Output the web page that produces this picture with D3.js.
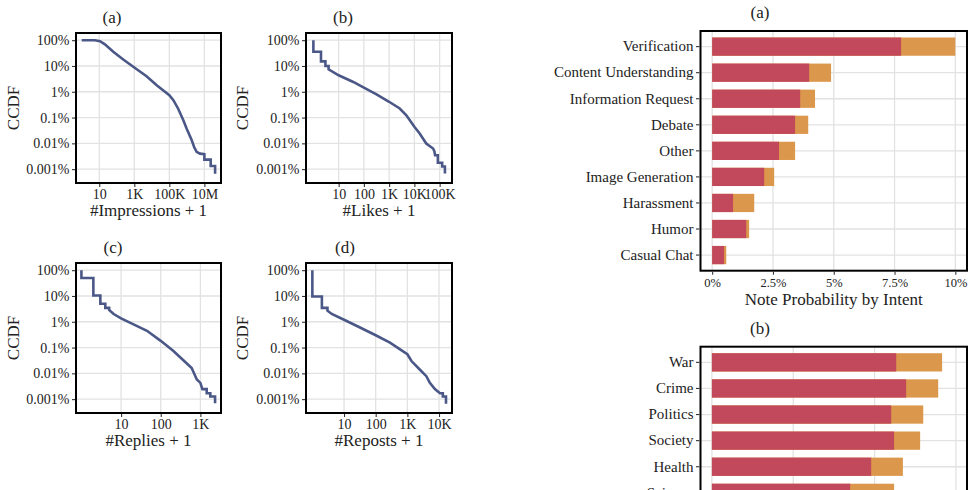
<!DOCTYPE html>
<html><head><meta charset="utf-8">
<script src="https://cdn.jsdelivr.net/npm/d3@7"></script>
<style>
body{margin:0;background:#fff}
svg{display:block;font-family:"Liberation Serif","Times New Roman",serif}
</style>
</head><body>
<svg id="c" width="974" height="490"></svg>
<script>
// ---------- DATA ----------
const ccdfTickValues = [1, 0.1, 0.01, 0.001, 0.0001, 0.00001];
const ccdfTickLabels = ["100%", "10%", "1%", "0.1%", "0.01%", "0.001%"];

// [count + 1, CCDF]
const impressions = [[1,1],[5.6,0.99],[11,0.91],[21,0.69],[63,0.355],[234,0.178],[1000,0.087],[5000,0.04],[19000,0.0178],[100000,0.0074],[170000,0.0047],[320000,0.0022],[630000,0.00079],[980000,0.00037],[1900000,0.000132],[2600000,0.0000724],[3600000,0.0000468],[5600000,0.0000398],[10000000,0.000038],[10000000,0.0000234],[23000000,0.0000234],[23000000,0.0000132],[41000000,0.0000132],[41000000,0.0000066]];
const likes = [[1,1],[1,0.355],[2,0.355],[2,0.151],[3,0.151],[3,0.1],[4,0.1],[4,0.074],[10,0.0437],[38,0.024],[100,0.0145],[316,0.0079],[1000,0.0041],[2630,0.00224],[4800,0.00123],[10000,0.000437],[16200,0.00024],[29500,0.000098],[55000,0.000063],[61700,0.00005],[66000,0.0000347],[85000,0.0000347],[85000,0.0000178],[126000,0.0000178],[126000,0.0000126],[162000,0.0000126],[162000,0.0000068]];
const replies = [[1,1],[1,0.5],[2,0.5],[2,0.105],[3,0.105],[3,0.05],[4,0.05],[4,0.0347],[5,0.0347],[5,0.0288],[6.5,0.02],[10,0.0135],[20,0.0081],[45,0.00447],[100,0.00182],[209,0.00074],[372,0.000324],[603,0.000162],[813,0.0000575],[1000,0.0000427],[1122,0.0000245],[1445,0.0000245],[1445,0.000017],[1778,0.000017],[1778,0.0000126],[2344,0.0000126],[2344,0.0000069]];
const reposts = [[1,1],[1,0.095],[2,0.095],[2,0.0347],[3,0.0347],[3,0.0269],[4.1,0.02],[10,0.012],[32,0.006],[100,0.003],[282,0.00155],[589,0.00085],[1000,0.00055],[1349,0.0003],[2455,0.000141],[3981,0.0000776],[5129,0.0000427],[7413,0.0000245],[10715,0.000017],[13183,0.000017],[13183,0.0000126],[16596,0.0000126],[16596,0.0000066]];

const impressionsTicks = [10, 1000, 100000, 10000000];
const impressionsTickLabels = ["10", "1K", "100K", "10M"];
const likesTicks = [10, 100, 1000, 10000, 100000];
const likesTickLabels = ["10", "100", "1K", "10K", "100K"];
const repliesTicks = [10, 100, 1000];
const repliesTickLabels = ["10", "100", "1K"];
const repostsTicks = [10, 100, 1000, 10000];
const repostsTickLabels = ["10", "100", "1K", "10K"];

const intentCategories = ["Verification","Content Understanding","Information Request","Debate","Other","Image Generation","Harassment","Humor","Casual Chat"];
const intentNoted = [7.77, 3.99, 3.62, 3.41, 2.75, 2.14, 0.86, 1.40, 0.49];
const intentTotal = [10.0, 4.89, 4.23, 3.95, 3.41, 2.55, 1.73, 1.52, 0.58];
const intentTicks = [0, 2.5, 5, 7.5, 10];
const intentTickLabels = ["0%", "2.5%", "5%", "7.5%", "10%"];

const topicCategories = ["War","Crime","Politics","Society","Health","Science"];
const topicNoted = [11.33, 11.94, 11.02, 11.2, 9.79, 8.5];
const topicTotal = [14.15, 13.91, 12.99, 12.8, 11.74, 11.2];
const topicTicks = [0, 5, 10, 15];

// ---------- STYLE ----------
const LINE = "#4B5887", RED = "#C2495B", ORANGE = "#DB984C", GRID = "#E2E2E2", TXT = "#222";
const svg = d3.select("#c");

function styleAxis(g, fs) {
  g.select(".domain").remove();
  g.selectAll(".tick line").attr("stroke", "#333").attr("stroke-width", 1.1);
  g.selectAll(".tick text").attr("fill", TXT).attr("font-size", fs).attr("font-family", "Liberation Serif, serif");
}

function ccdfPanel(o) {
  const g = svg.append("g");
  const x = d3.scaleLog().domain(o.xd).range([o.x0, o.x1]);
  const y = d3.scaleLog().domain([2.9e-6, 1.9]).range([o.y1, o.y0]);
  g.selectAll(".vg").data(o.ticks).join("line")
    .attr("x1", d => x(d)).attr("x2", d => x(d)).attr("y1", o.y0).attr("y2", o.y1)
    .attr("stroke", GRID).attr("stroke-width", 1.3);
  g.selectAll(".hg").data(ccdfTickValues).join("line")
    .attr("x1", o.x0).attr("x2", o.x1).attr("y1", d => y(d)).attr("y2", d => y(d))
    .attr("stroke", GRID).attr("stroke-width", 1.3);
  g.append("path").datum(o.data)
    .attr("d", d3.line().x(d => x(d[0])).y(d => y(d[1])))
    .attr("fill", "none").attr("stroke", LINE).attr("stroke-width", 2.6)
    .attr("stroke-linejoin", "miter");
  g.append("rect").attr("x", o.x0).attr("y", o.y0).attr("width", o.x1 - o.x0).attr("height", o.y1 - o.y0)
    .attr("fill", "none").attr("stroke", "#000").attr("stroke-width", 2);
  const ax = g.append("g").attr("transform", `translate(0,${o.y1 + 1})`)
    .call(d3.axisBottom(x).tickValues(o.ticks).tickFormat((d, i) => o.labels[i]).tickSize(3).tickPadding(2.5));
  styleAxis(ax, 14);
  const ay = g.append("g").attr("transform", `translate(${o.x0 - 1},0)`)
    .call(d3.axisLeft(y).tickValues(ccdfTickValues).tickFormat((d, i) => ccdfTickLabels[i]).tickSize(3).tickPadding(2.5));
  styleAxis(ay, 14);
  g.append("text").attr("x", o.tx).attr("y", o.y0 - 10).attr("text-anchor", "middle")
    .attr("font-size", 17).attr("fill", TXT).text(o.title);
  g.append("text").attr("x", (o.x0 + o.x1) / 2).attr("y", o.y1 + 33).attr("text-anchor", "middle")
    .attr("font-size", 17).attr("fill", TXT).text(o.xlab);
  g.append("text").attr("transform", `translate(${o.ylx},${(o.y0 + o.y1) / 2}) rotate(-90)`)
    .attr("text-anchor", "middle").attr("font-size", 17).attr("fill", TXT).text("CCDF");
}

ccdfPanel({data: impressions, x0: 76, x1: 221, y0: 33, y1: 183, xd: [0.47, 8.9e7], ticks: impressionsTicks, labels: impressionsTickLabels, title: "(a)", tx: 112, xlab: "#Impressions + 1", ylx: 19});
ccdfPanel({data: likes, x0: 306, x1: 452, y0: 33, y1: 183, xd: [0.51, 309000], ticks: likesTicks, labels: likesTickLabels, title: "(b)", tx: 343, xlab: "#Likes + 1", ylx: 248});
ccdfPanel({data: replies, x0: 76, x1: 221, y0: 263, y1: 413, xd: [0.73, 3310], ticks: repliesTicks, labels: repliesTickLabels, title: "(c)", tx: 113, xlab: "#Replies + 1", ylx: 19});
ccdfPanel({data: reposts, x0: 306, x1: 452, y0: 263, y1: 413, xd: [0.63, 25700], ticks: repostsTicks, labels: repostsTickLabels, title: "(d)", tx: 345, xlab: "#Reposts + 1", ylx: 248});

function barPanel(o) {
  const g = svg.append("g");
  const x = d3.scaleLinear().domain(o.xd).range([o.x0, o.x1]);
  const y = d3.scaleBand().domain(o.cats).range([o.y0, o.y1]).paddingInner(0.3).paddingOuter(0.25);
  const yc = d => y(d) + y.bandwidth() / 2;
  g.selectAll(".vg").data(o.ticks).join("line")
    .attr("x1", d => x(d)).attr("x2", d => x(d)).attr("y1", o.y0).attr("y2", o.y1)
    .attr("stroke", GRID).attr("stroke-width", 1.3);
  g.selectAll(".hg").data(o.cats).join("line")
    .attr("x1", o.x0).attr("x2", o.x1).attr("y1", yc).attr("y2", yc)
    .attr("stroke", GRID).attr("stroke-width", 1.3);
  g.selectAll(".tot").data(o.cats).join("rect")
    .attr("x", x(0)).attr("y", d => y(d)).attr("height", y.bandwidth())
    .attr("width", (d, i) => x(o.total[i]) - x(0)).attr("fill", ORANGE);
  g.selectAll(".noted").data(o.cats).join("rect")
    .attr("x", x(0)).attr("y", d => y(d)).attr("height", y.bandwidth())
    .attr("width", (d, i) => x(o.noted[i]) - x(0)).attr("fill", RED);
  g.append("rect").attr("x", o.x0).attr("y", o.y0).attr("width", o.x1 - o.x0).attr("height", o.y1 - o.y0)
    .attr("fill", "none").attr("stroke", "#000").attr("stroke-width", 2);
  const ay = g.append("g").attr("transform", `translate(${o.x0 - 1},0)`)
    .call(d3.axisLeft(y).tickSize(3.5).tickPadding(2.5));
  styleAxis(ay, 15);
  if (o.labels) {
    const ax = g.append("g").attr("transform", `translate(0,${o.y1 + 1})`)
      .call(d3.axisBottom(x).tickValues(o.ticks).tickFormat((d, i) => o.labels[i]).tickSize(3).tickPadding(3));
    styleAxis(ax, 12.5);
    g.append("text").attr("x", (o.x0 + o.x1) / 2).attr("y", o.y1 + 34).attr("text-anchor", "middle")
      .attr("font-size", 17).attr("fill", TXT).text(o.xlab);
  }
  g.append("text").attr("x", 760).attr("y", o.y0 - 13).attr("text-anchor", "middle")
    .attr("font-size", 17).attr("fill", TXT).text(o.title);
}

barPanel({cats: intentCategories, noted: intentNoted, total: intentTotal, x0: 700.5, x1: 967, y0: 31, y1: 270.7, xd: [-0.48, 10.48], ticks: intentTicks, labels: intentTickLabels, title: "(a)", xlab: "Note Probability by Intent"});
// panel (b) continues below the visible area; its x axis is not shown in the picture
barPanel({cats: topicCategories, noted: topicNoted, total: topicTotal, x0: 700.5, x1: 967, y0: 346.7, y1: 508.5, xd: [-0.7, 15.68], ticks: topicTicks, labels: null, title: "(b)"});
</script>
</body></html>
